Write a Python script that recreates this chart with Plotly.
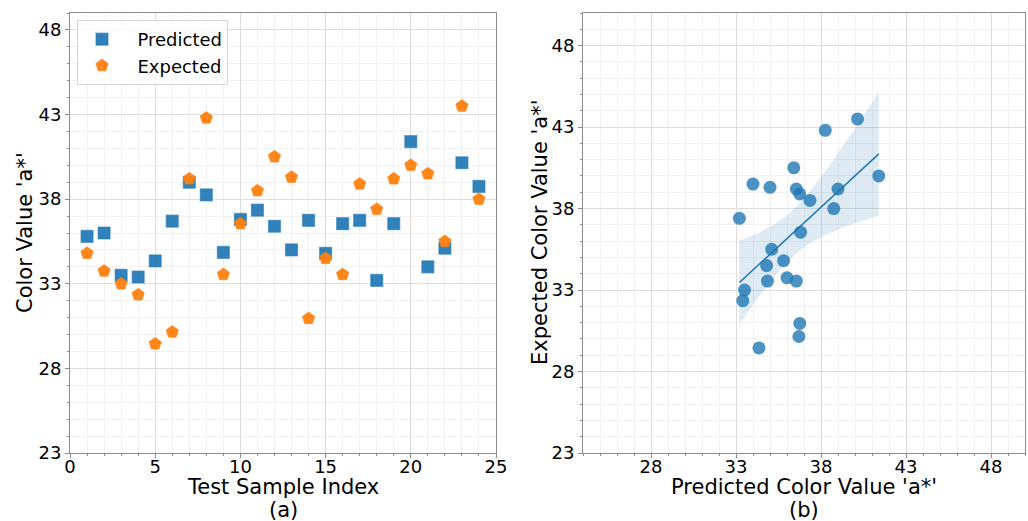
import numpy as np
import plotly.graph_objects as go

# Test samples and their colour values (a*)
sample_index = list(range(1, 25))
predicted = [35.8, 36.0, 33.5, 33.4, 34.35, 36.7, 39.0, 38.25, 34.85, 36.8, 37.35, 36.4,
             35.0, 36.75, 34.8, 36.55, 36.75, 33.2, 36.55, 41.4, 34.0, 35.1, 40.15, 38.75]
expected = [34.8, 33.75, 33.0, 32.35, 29.45, 30.15, 39.2, 42.8, 33.55, 36.55, 38.5, 40.5,
            39.3, 30.95, 34.5, 33.55, 38.9, 37.4, 39.2, 40.0, 39.5, 35.5, 43.5, 38.0]

y_ticks = [23, 28, 33, 38, 43, 48]
x_ticks_a = [0, 5, 10, 15, 20, 25]
x_ticks_b = [28, 33, 38, 43, 48]

W, H = 1028, 521
FONT = "DejaVu Sans"
BLUE = "#1f77b4"
ORANGE = "#ff7f0e"


def px_x(p):
    return p / W


def px_y(p):
    return 1 - p / H


fig = go.Figure()

# (a) predicted vs expected per sample
fig.add_trace(go.Scatter(
    x=sample_index, y=predicted, mode="markers", name="\u00a0\u00a0Predicted",
    marker=dict(symbol="square", size=12, color="rgba(31,119,180,0.92)",
                line=dict(color="rgba(31,119,180,0.55)", width=1.2)),
    xaxis="x", yaxis="y",
))
fig.add_trace(go.Scatter(
    x=sample_index, y=expected, mode="markers", name="\u00a0\u00a0Expected",
    marker=dict(symbol="pentagon", size=13, color="rgba(255,127,14,0.95)",
                line=dict(color="rgba(255,127,14,0.55)", width=1)),
    xaxis="x", yaxis="y",
))

# (b) expected vs predicted with linear fit and 95% confidence band
xp = np.array(predicted)
ye = np.array(expected)
n = len(xp)
slope, intercept = np.polyfit(xp, ye, 1)
grid = np.linspace(xp.min(), xp.max(), 100)
fit = slope * grid + intercept
resid = ye - (slope * xp + intercept)
s = np.sqrt(np.sum(resid ** 2) / (n - 2))
sxx = np.sum((xp - xp.mean()) ** 2)
t_crit = 2.074  # two-sided 95%, 22 degrees of freedom
half = t_crit * s * np.sqrt(1.0 / n + (grid - xp.mean()) ** 2 / sxx)

fig.add_trace(go.Scatter(
    x=predicted, y=expected, mode="markers", showlegend=False,
    marker=dict(symbol="circle", size=13, color="rgba(31,119,180,0.8)", line=dict(width=0)),
    xaxis="x2", yaxis="y2",
))
fig.add_trace(go.Scatter(
    x=np.concatenate([grid, grid[::-1]]),
    y=np.concatenate([fit + half, (fit - half)[::-1]]),
    fill="toself", fillcolor="rgba(31,119,180,0.15)", line=dict(width=0),
    mode="lines", showlegend=False, hoverinfo="skip",
    xaxis="x2", yaxis="y2",
))
fig.add_trace(go.Scatter(
    x=grid, y=fit, mode="lines", showlegend=False,
    line=dict(color=BLUE, width=1.5),
    xaxis="x2", yaxis="y2",
))

axis_common = dict(
    automargin=False,
    showline=True, linecolor="#8c8c8c", linewidth=1, mirror=True,
    showgrid=True, gridcolor="#dedede", gridwidth=1,
    ticks="outside", ticklen=4, tickcolor="#8c8c8c", tickwidth=1,
    tickfont=dict(family=FONT, size=18, color="#000"),
    zeroline=False,
    minor=dict(dtick=1, showgrid=True, gridcolor="#f1f1f1", gridwidth=1,
               ticks="outside", ticklen=2, tickcolor="#8c8c8c"),
)
x_extra = dict(ticklabelstandoff=-7)

fig.update_layout(
    template="none",
    width=W, height=H, autosize=False,
    margin=dict(l=0, r=0, t=0, b=0, pad=0),
    paper_bgcolor="white", plot_bgcolor="white",
    font=dict(family=FONT, size=18, color="#000"),
    xaxis=dict(domain=[px_x(70), px_x(496)], range=[0, 25],
               tickvals=x_ticks_a, anchor="y", **axis_common, **x_extra),
    yaxis=dict(domain=[px_y(453), px_y(13)], range=[23, 49],
               tickvals=y_ticks, anchor="x", **axis_common),
    xaxis2=dict(domain=[px_x(583), px_x(1025)], range=[24, 50],
                tickvals=x_ticks_b, anchor="y2", **axis_common, **x_extra),
    yaxis2=dict(domain=[px_y(453), px_y(13)], range=[23, 50],
                tickvals=y_ticks, anchor="x2", **axis_common),
    legend=dict(
        x=px_x(77), y=px_y(20), xanchor="left", yanchor="top",
        bgcolor="rgba(255,255,255,0.85)", bordercolor="#d6d6d6", borderwidth=1,
        font=dict(family=FONT, size=18, color="#000"),
        itemwidth=38, tracegroupgap=0,
    ),
    showlegend=True,
)

title_font = dict(family=FONT, size=21, color="#000")
annotations = [
    dict(text="Test Sample Index", x=px_x(283), y=px_y(487)),
    dict(text="(a)", x=px_x(283), y=px_y(510)),
    dict(text="Predicted Color Value 'a*'", x=px_x(804), y=px_y(487)),
    dict(text="(b)", x=px_x(804), y=px_y(510)),
    dict(text="Color Value 'a*'", x=px_x(25), y=px_y(233), textangle=-90),
    dict(text="Expected Color Value 'a*'", x=px_x(540), y=px_y(233), textangle=-90),
]
for a in annotations:
    fig.add_annotation(xref="paper", yref="paper", xanchor="center", yanchor="middle",
                       showarrow=False, font=title_font, **a)

fig.write_html("out.html")
